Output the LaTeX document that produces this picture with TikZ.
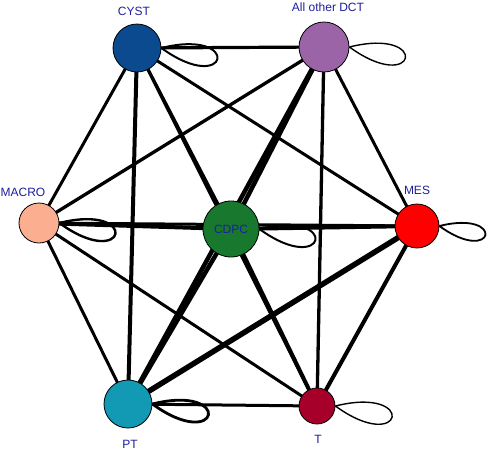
\documentclass[tikz,border=0pt]{standalone}
\usepackage{fontspec}
\setmainfont{Liberation Sans}
\definecolor{Cyst}{HTML}{0B4A8F}
\definecolor{Dct}{HTML}{9A64A6}
\definecolor{Macro}{HTML}{FBAE90}
\definecolor{Cdpc}{HTML}{18782E}
\definecolor{Mes}{HTML}{FF0000}
\definecolor{Pt}{HTML}{1299B4}
\definecolor{Tcell}{HTML}{A6002A}
\definecolor{Ink}{HTML}{1E1E9E}
\usetikzlibrary{positioning,backgrounds}

\begin{document}
\begin{tikzpicture}[
  x=1pt,y=-1pt,
  cell/.style={circle,draw=black,line width=.8pt,inner sep=0pt},
  tag/.style={font=\fontsize{12}{12}\selectfont,text=Ink,inner sep=0pt},
  link/.style={line width=3pt,draw=black},
  selfloop/.style={line width=1.6pt,draw=black,out=14,in=-36,min distance=84pt}
]
\useasboundingbox (0,0) rectangle (498,450);
% cells
\node[cell,fill=Cyst,minimum size=48pt] (cyst) at (137,48) {};
\node[cell,fill=Dct,minimum size=50pt] (dct) at (324,47) {};
\node[cell,fill=Macro,minimum size=40pt] (macro) at (39,223) {};
\node[cell,fill=Cdpc,minimum size=56pt,tag] (cdpc) at (231,229) {CDPC};
\node[cell,fill=Mes,minimum size=44pt] (mes) at (417,226) {};
\node[cell,fill=Pt,minimum size=48pt] (pt) at (128,404) {};
\node[cell,fill=Tcell,minimum size=36pt] (t) at (317,406) {};
% labels
\node[tag,above=7.5pt of cyst,xshift=-3pt] (cystlab) {CYST};
\node[tag,above=10pt of dct,xshift=4pt] (dctlab) {All other DCT};
\node[tag,above=5.5pt of macro,xshift=-16pt] (macrolab) {MACRO};
\node[tag,above=8.5pt of mes] (meslab) {MES};
\node[tag,below=11.5pt of pt,xshift=2pt] (ptlab) {PT};
\node[tag,below=10.5pt of t,xshift=1pt] (tlab) {T};
% edges
\begin{scope}[on background layer]
\draw[link,line width=3.2pt] (cyst.center)--(dct.center);
\draw[link] (cyst.center)--(macro.center);
\draw[link] (cyst.center)--(cdpc.center);
\draw[link] (cyst.center)--(mes.center);
\draw[link,line width=4pt] (cyst.center)--(pt.center);
\draw[link] (cyst.center)--(t.center);
\draw[link,line width=3.3pt] (dct.center)--(macro.center);
\draw[link,line width=4.5pt] (dct.center)--(cdpc.center);
\draw[link] (dct.center)--(mes.center);
\draw[link,line width=4.5pt] (dct.center)--(pt.center);
\draw[link,line width=3.3pt] (dct.center)--(t.center);
\draw[link,line width=4pt] (macro.center)--(cdpc.center);
\draw[link] (macro.center)--(mes.center);
\draw[link] (macro.center)--(pt.center);
\draw[link] (macro.center)--(t.center);
\draw[link,line width=4pt] (cdpc.center)--(mes.center);
\draw[link,line width=4.5pt] (cdpc.center)--(pt.center);
\draw[link,line width=4pt] (cdpc.center)--(t.center);
\draw[link,line width=5.5pt] (mes.center)--(pt.center);
\draw[link,line width=4pt] (mes.center)--(t.center);
\draw[link] (pt.center)--(t.center);
\end{scope}
% self loops
\draw[selfloop,line width=2pt] (cyst.east) to (cyst.east);
\draw[selfloop,line width=1.4pt] (dct.east) to (dct.east);
\draw[selfloop,line width=2.4pt] (macro.east) to (macro.east);
\draw[selfloop,line width=2pt] (cdpc.east) to (cdpc.east);
\draw[selfloop,line width=1.8pt,min distance=69pt] (mes.east) to (mes.east);
\draw[selfloop,line width=2.8pt] (pt.east) to (pt.east);
\draw[selfloop,line width=1.4pt,min distance=85pt] (t.east) to (t.east);
\end{tikzpicture}
\end{document}
